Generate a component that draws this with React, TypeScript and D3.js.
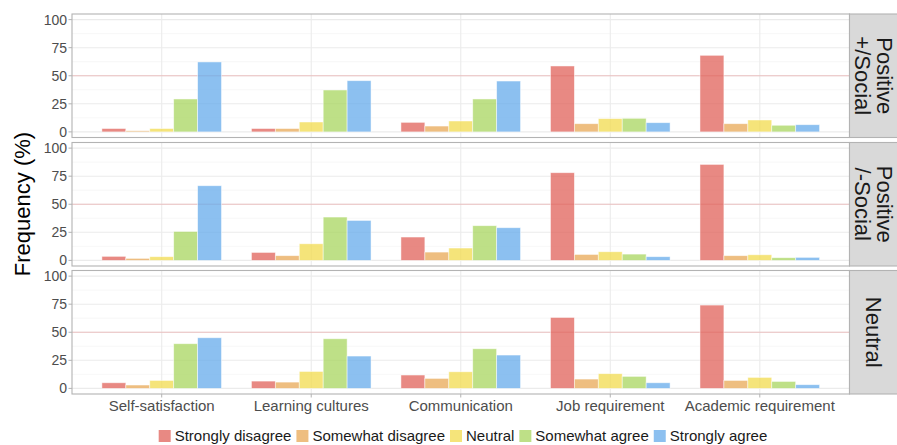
import React from "react";
import * as d3 from "d3";

const categories = ["Self-satisfaction", "Learning cultures", "Communication", "Job requirement", "Academic requirement"];
const responses = ["Strongly disagree", "Somewhat disagree", "Neutral", "Somewhat agree", "Strongly agree"];
const panels = [["Positive", "+/Social"], ["Positive", "/-Social"], ["Neutral"]];
const yTicks = [0, 25, 50, 75, 100];
const yMinor = [12.5, 37.5, 62.5, 87.5];
const refLine = 50;

// values[response][category] per panel
const positivePlusSocial = [
  [3, 3, 8.5, 58.7, 68.2],
  [1, 3, 5.2, 7.3, 7.3],
  [3, 8.8, 9.7, 11.8, 10.6],
  [29.3, 37.3, 29.3, 12.1, 5.9],
  [62.3, 45.6, 45.3, 8.2, 6.4],
];
const positiveMinusSocial = [
  [3.6, 7.1, 20.8, 78.1, 85.5],
  [1.8, 4.2, 7.4, 5.3, 4.2],
  [3.3, 14.8, 11.0, 7.7, 5.0],
  [25.8, 38.6, 30.9, 5.6, 2.4],
  [66.5, 35.6, 29.1, 3.3, 2.7],
];
const neutralPanel = [
  [5.0, 6.5, 11.9, 63.2, 74.2],
  [3.0, 5.6, 8.9, 8.3, 7.1],
  [7.1, 15.1, 14.8, 13.1, 9.8],
  [39.8, 44.2, 35.3, 10.7, 6.2],
  [45.1, 28.8, 29.7, 5.0, 3.3],
];
const panelData = [positivePlusSocial, positiveMinusSocial, neutralPanel];

const colors = ["#E0625A", "#E8A856", "#F2DB4E", "#A8D65F", "#66ABEB"];

const W = 897;
const H = 445;
const left = 72;
const right = 849.5;
const stripRight = 900;
const panelTops = [14, 142.5, 270.5];
const panelH = 123.5;
const FONT = "'Liberation Sans', Arial, Helvetica, sans-serif";

function measure(text: string, size: number): number {
  if (typeof document === "undefined") return text.length * size * 0.5;
  const c = document.createElement("canvas");
  const ctx = c.getContext("2d");
  if (!ctx) return text.length * size * 0.5;
  ctx.font = `${size}px 'Liberation Sans', Arial, sans-serif`;
  return ctx.measureText(text).width;
}

export default function App() {
  const x = d3.scaleLinear().domain([-0.6, categories.length - 0.4]).range([left, right]);
  const inner = d3.scaleBand<string>().domain(responses).range([-0.4, 0.4]);
  const barW = x(inner.bandwidth()) - x(0);

  // legend layout
  const legSize = 15;
  const keyW = 12;
  const keyGap = 4;
  const itemGap = 5;
  const widths = responses.map((r) => measure(r, legSize));
  const totalW = widths.reduce((a, b) => a + b, 0) + responses.length * (keyW + keyGap) + (responses.length - 1) * itemGap;
  const legCenter = 463;
  let cursor = legCenter - totalW / 2;
  const legItems = responses.map((r, i) => {
    const item = { r, i, x: cursor };
    cursor += keyW + keyGap + widths[i] + itemGap;
    return item;
  });
  const legY = 436;

  return (
    <svg width={W} height={H} style={{ position: "absolute", left: 0, top: 0, fontFamily: FONT }}>
      <rect x={0} y={0} width={W} height={H} fill="#fff" />
      {panelData.map((data, p) => {
        const top = panelTops[p];
        const bottom = top + panelH;
        const y = d3.scaleLinear().domain([-5, 105]).range([bottom, top]);
        return (
          <g key={p}>
            {yMinor.map((v) => (
              <line key={"mi" + v} x1={left} x2={right} y1={y(v)} y2={y(v)} stroke="#f2f2f2" strokeWidth={0.6} />
            ))}
            {yTicks.map((v) => (
              <line key={"ma" + v} x1={left} x2={right} y1={y(v)} y2={y(v)} stroke="#ebebeb" strokeWidth={1.1} />
            ))}
            {categories.map((c, ci) => (
              <line key={"v" + ci} x1={x(ci)} x2={x(ci)} y1={top} y2={bottom} stroke="#ebebeb" strokeWidth={1.1} />
            ))}
            <line x1={left} x2={right} y1={y(refLine)} y2={y(refLine)} stroke="#E88A8A" strokeOpacity={0.45} strokeWidth={1.1} />
            {data.map((series, si) =>
              series.map((v, ci) => {
                const bx = x(ci + (inner(responses[si]) as number));
                return (
                  <rect
                    key={si + "-" + ci}
                    x={bx}
                    y={y(v)}
                    width={barW}
                    height={y(0) - y(v)}
                    fill={colors[si]}
                    fillOpacity={0.75}
                    stroke="#ffffff"
                    strokeOpacity={0.6}
                    strokeWidth={0.8}
                  />
                );
              })
            )}
            <rect x={left} y={top} width={right - left} height={panelH} fill="none" stroke="#b3b3b3" strokeWidth={1.1} />
            {yTicks.map((v) => (
              <g key={"t" + v}>
                <line x1={left - 3.5} x2={left} y1={y(v)} y2={y(v)} stroke="#b3b3b3" strokeWidth={1} />
                <text x={left - 5} y={y(v)} dy="0.35em" textAnchor="end" fontSize={14} fill="#4d4d4d">
                  {v}
                </text>
              </g>
            ))}
            <rect x={right} y={top} width={stripRight - right} height={panelH} fill="#d9d9d9" stroke="#b3b3b3" strokeWidth={1.1} />
            <g transform={`translate(${(right + W) / 2 + 0.5},${top + panelH / 2}) rotate(90)`}>
              {panels[p].map((line, li) => {
                const n = panels[p].length;
                const off = (li - (n - 1) / 2) * 22.5;
                return (
                  <text key={li} x={0} y={off} dy="0.35em" textAnchor="middle" fontSize={22} fill="#1a1a1a">
                    {line}
                  </text>
                );
              })}
            </g>
          </g>
        );
      })}
      {categories.map((c, ci) => (
        <g key={"xl" + ci}>
          <line x1={x(ci)} x2={x(ci)} y1={panelTops[2] + panelH} y2={panelTops[2] + panelH + 3.5} stroke="#b3b3b3" strokeWidth={1} />
          <text x={x(ci)} y={406} dy="0.35em" textAnchor="middle" fontSize={15} fill="#4d4d4d">
            {c}
          </text>
        </g>
      ))}
      <text transform={`translate(22,${(panelTops[0] + panelTops[2] + panelH) / 2}) rotate(-90)`} dy="0.35em" textAnchor="middle" fontSize={22} fill="#000">
        Frequency (%)
      </text>
      {legItems.map((it) => (
        <g key={it.r}>
          <rect x={it.x} y={legY - keyW / 2} width={keyW} height={keyW} fill={colors[it.i]} fillOpacity={0.75} />
          <text x={it.x + keyW + keyGap} y={legY} dy="0.35em" fontSize={legSize} fill="#1a1a1a">
            {it.r}
          </text>
        </g>
      ))}
    </svg>
  );
}
